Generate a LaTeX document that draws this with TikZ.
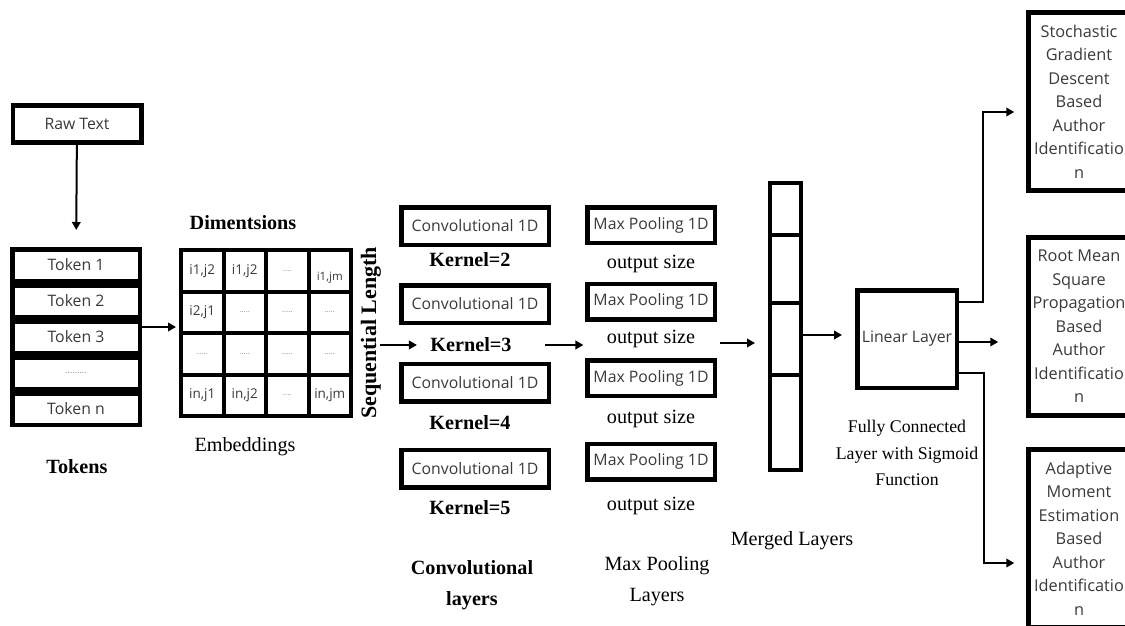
\documentclass[tikz,border=0pt]{standalone}
\usepackage{fontspec}
\setmainfont{Liberation Serif}
\newfontfamily\boxfont{Open Sans}
\usetikzlibrary{arrows.meta,calc}
\definecolor{boxtxt}{HTML}{3A3A3A}
\definecolor{dotgray}{HTML}{8A8A8A}
\begin{document}
\begin{tikzpicture}[x=1pt,y=-1pt,
  bx/.style={draw, line width=4.5pt, inner sep=0pt, align=center, text=boxtxt,
    font=\boxfont\fontsize{15.8}{18}\selectfont},
  outbox/.style={bx, minimum width=101pt, minimum height=178pt,
    font=\boxfont\fontsize{16.3}{23.5}\selectfont},
  cell/.style={draw, line width=4pt, minimum width=42.5pt, minimum height=41.5pt,
    inner sep=0pt, text=boxtxt, font=\boxfont\fontsize{13.5}{14}\selectfont},
  dots/.style={text=dotgray, font=\boxfont\fontsize{8}{9}\selectfont},
  mcell/.style={draw, line width=4pt, minimum width=31pt, inner sep=0pt},
  lbl/.style={align=center, font=\fontsize{20.2}{30.5}\selectfont},
  blbl/.style={align=center, font=\fontsize{20.2}{30.5}\selectfont\bfseries},
  arr/.style={line width=2pt, -{Triangle[length=8pt,width=8.5pt]}},
]
\useasboundingbox (0,0) rectangle (1125,626);
\fill[white] (0,0) rectangle (1125,626);
\clip (0,0) rectangle (1125,626);

% Raw text and tokens
\node[bx, minimum width=128.5pt, minimum height=37pt] (raw) at (77,124) {Raw Text};
\node[bx, minimum width=127.5pt, minimum height=31.5pt] (t1) at (76,265) {Token 1};
\node[bx, minimum width=127.5pt, minimum height=31.5pt] (t2) at (76,301) {Token 2};
\node[bx, minimum width=127.5pt, minimum height=31.5pt] (t3) at (76,337) {Token 3};
\node[bx, minimum width=127.5pt, minimum height=31.5pt] (t4) at (76,373) {\fontsize{9}{10}\selectfont\textcolor{dotgray}{.........}};
\node[bx, minimum width=127.5pt, minimum height=31.5pt] (t5) at (76,409) {Token n};
\node[blbl] (tokl) at (77,467) {Tokens};
\draw[arr, shorten >=17pt] (raw) -- (t1);

% Embedding grid
\node[cell] (c11) at (202.25,270.75) {i1,j2};
\node[cell] (c12) at (244.75,270.75) {i1,j2};
\node[cell, dots] (c13) at (287.25,270.75) {....};
\node[cell, label={[font=\boxfont\fontsize{11.5}{12}\selectfont, text=boxtxt, yshift=-7pt]center:i1,jm}] (c14) at (329.75,270.75) {};
\node[cell] (c21) at (202.25,312.25) {i2,j1};
\node[cell, dots] (c22) at (244.75,312.25) {.....};
\node[cell, dots] (c23) at (287.25,312.25) {.....};
\node[cell, dots] (c24) at (329.75,312.25) {.....};
\node[cell, dots] (c31) at (202.25,353.75) {.....};
\node[cell, dots] (c32) at (244.75,353.75) {.....};
\node[cell, dots] (c33) at (287.25,353.75) {.....};
\node[cell, dots] (c34) at (329.75,353.75) {.....};
\node[cell] (c41) at (202.25,395.25) {in,j1};
\node[cell] (c42) at (244.75,395.25) {in,j2};
\node[cell, dots] (c43) at (287.25,395.25) {....};
\node[cell] (c44) at (329.75,395.25) {in,jm};
\node[blbl] (diml) at (243,223) {Dimentsions};
\node[lbl] (embl) at (245,447) {Embeddings};
\coordinate (ea) at ([yshift=10pt]t3.east);
\draw[arr, shorten >=3pt] (ea) -- (ea -| c21.west);

% Sequential length
\node[font=\fontsize{22}{24}\selectfont\bfseries, rotate=90] (seq) at (371,333) {Sequential Length};
\coordinate (sq) at (380,345);

% Convolutional layers
\node[bx, minimum width=147.5pt, minimum height=37.5pt] (cv1) at (475,226) {Convolutional 1D};
\node[bx, minimum width=147.5pt, minimum height=37.5pt] (cv2) at (475,304) {Convolutional 1D};
\node[bx, minimum width=147.5pt, minimum height=37.5pt] (cv3) at (475,382.5) {Convolutional 1D};
\node[bx, minimum width=147.5pt, minimum height=37.5pt] (cv4) at (475,468.5) {Convolutional 1D};
\node[blbl] (k2) at (470,260) {Kernel=2};
\node[blbl] (k3) at (471,345) {Kernel=3};
\node[blbl] (k4) at (470,423) {Kernel=4};
\node[blbl] (k5) at (470,508) {Kernel=5};
\node[blbl] (convl) at (472,585) {Convolutional\\layers};
\draw[arr, shorten >=10pt] (sq) -- (sq -| k3.west);

% Max pooling
\node[bx, minimum width=127.5pt, minimum height=35.5pt] (mp1) at (651,225) {Max Pooling 1D};
\node[bx, minimum width=127.5pt, minimum height=35.5pt] (mp2) at (651,301.5) {Max Pooling 1D};
\node[bx, minimum width=127.5pt, minimum height=35.5pt] (mp3) at (651,378) {Max Pooling 1D};
\node[bx, minimum width=127.5pt, minimum height=35.5pt] (mp4) at (651,461.5) {Max Pooling 1D};
\node[lbl] (o1) at (651,264) {output size};
\node[lbl] (o2) at (651,339) {output size};
\node[lbl] (o3) at (651,419) {output size};
\node[lbl] (o4) at (651,506) {output size};
\node[lbl] (mpl) at (657,581) {Max Pooling\\Layers};
\draw[arr, shorten <=30pt, shorten >=20pt] (k3.east) -- (k3.east -| o2.west);

% Merged layers
\node[mcell, minimum height=52pt] (mg1) at (785.5,209) {};
\node[mcell, minimum height=68pt] (mg2) at (785.5,269) {};
\node[mcell, minimum height=72pt] (mg3) at (785.5,339) {};
\node[mcell, minimum height=95pt] (mg4) at (785.5,422.5) {};
\node[lbl] (mgl) at (792,541) {Merged Layers};
\coordinate (pm) at (720,343);
\draw[arr, shorten >=13pt] (pm) -- (pm -| mg3.west);

% Linear layer
\node[bx, minimum width=99.5pt, minimum height=97.5pt] (lin) at (907,339) {Linear Layer};
\node[align=center, font=\fontsize{17.8}{26.5}\selectfont] (fcl) at (907,453) {Fully Connected\\Layer with Sigmoid\\Function};
\draw[arr, shorten >=13pt] ([yshift=4pt]mg3.east) -- ([yshift=4pt]mg3.east -| lin.west);

% Output boxes
\node[outbox] (sgd) at (1079,101.5) {Stochastic\\Gradient\\Descent\\Based\\Author\\Identificatio\\n};
\node[outbox] (rms) at (1079,326.5) {Root Mean\\Square\\Propagation\\Based\\Author\\Identificatio\\n};
\node[outbox] (adam) at (1079,538.5) {Adaptive\\Moment\\Estimation\\Based\\Author\\Identificatio\\n};

\draw[arr, shorten >=12pt] ([yshift=37pt]lin.east) -- ++(24,0) |- ([yshift=-10.5pt]sgd.west);
\draw[arr, shorten >=28pt] ([yshift=-3pt]lin.east) -- ([yshift=-3pt]lin.east -| rms.west);
\draw[arr, shorten >=12pt] ([yshift=-34pt]lin.east) -- ++(25,0) |- ([yshift=-24.5pt]adam.west);
\end{tikzpicture}
\end{document}
